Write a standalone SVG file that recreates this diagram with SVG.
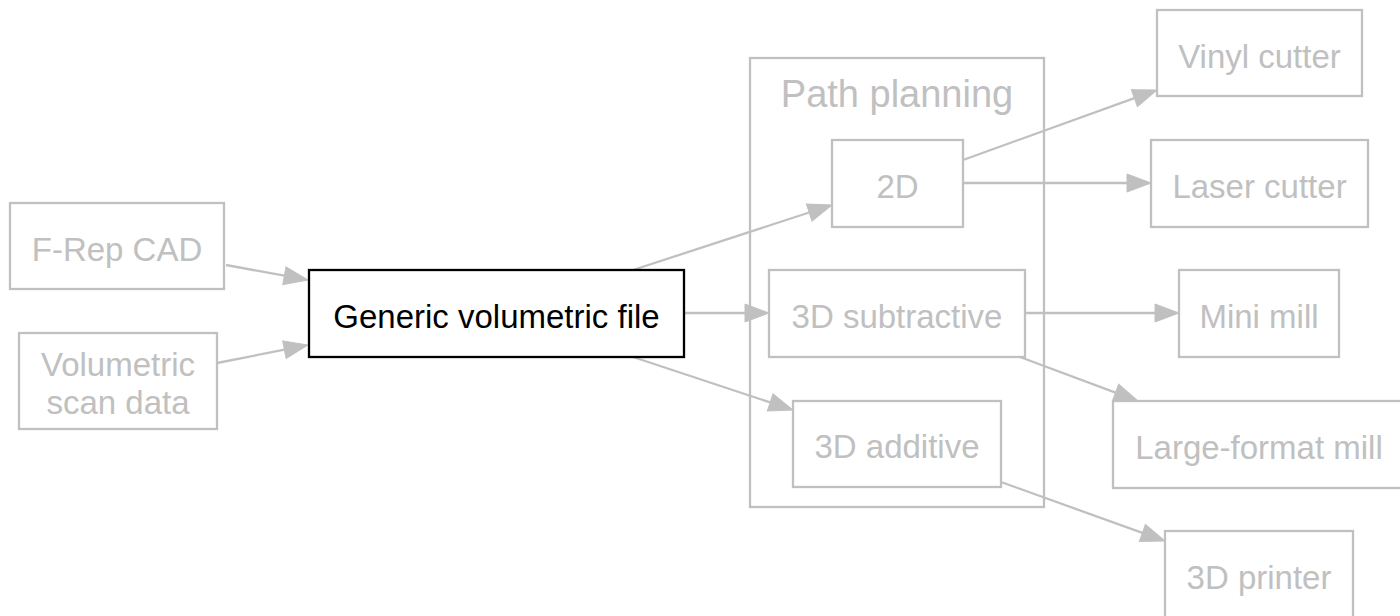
<svg xmlns="http://www.w3.org/2000/svg" width="1400" height="616" viewBox="0 0 1400 616">
<style>
  .n rect { fill: #ffffff; stroke: #c0c0c0; stroke-width: 2.3; }
  .n text { font-family: "Liberation Sans", Arial, sans-serif; font-size: 33px; fill: #c0c0c0; text-anchor: middle; }
  .main rect { stroke: #000000; }
  .main text { fill: #000000; }
  .cluster rect { fill: none; stroke: #c0c0c0; stroke-width: 2.3; }
  .cluster text { font-family: "Liberation Sans", Arial, sans-serif; font-size: 38px; fill: #c0c0c0; text-anchor: middle; }
  .e line { stroke: #c0c0c0; stroke-width: 2.3; marker-end: url(#arr); }
</style>
<defs>
  <marker id="arr" markerUnits="userSpaceOnUse" markerWidth="26" markerHeight="20" refX="0" refY="9" orient="auto" overflow="visible">
    <path d="M0,0 L24,9 L0,18 Z" fill="#c0c0c0" stroke="#c0c0c0" stroke-width="1"/>
  </marker>
</defs>
<rect width="1400" height="616" fill="#ffffff"/>
<g id="cluster-path-planning" class="cluster">
  <rect x="750" y="58" width="294" height="449"/>
  <text x="897" y="107">Path planning</text>
</g>
<g id="edges" class="e">
  <line x1="226" y1="265" x2="284.4" y2="275.7"/>
  <line x1="217" y1="363" x2="284.4" y2="349.7"/>
  <line x1="633" y1="270" x2="809.2" y2="212.5"/>
  <line x1="684" y1="313" x2="745" y2="313"/>
  <line x1="633" y1="357" x2="770.2" y2="402.4"/>
  <line x1="963" y1="160" x2="1134.4" y2="98.1"/>
  <line x1="963" y1="183" x2="1127" y2="183"/>
  <line x1="1025" y1="313" x2="1155" y2="313"/>
  <line x1="1020" y1="357" x2="1115.5" y2="392.6"/>
  <line x1="1001" y1="482" x2="1142.4" y2="532.9"/>
</g>
<g id="frep" class="n">
  <rect x="10" y="203" width="214" height="86"/>
  <text x="117" y="261">F-Rep CAD</text>
</g>
<g id="scan" class="n">
  <rect x="19" y="333" width="198" height="96"/>
  <text x="118" y="376">Volumetric</text>
  <text x="118" y="414">scan data</text>
</g>
<g id="generic" class="n main">
  <rect x="309" y="270" width="375" height="87"/>
  <text x="496.5" y="328">Generic volumetric file</text>
</g>
<g id="p2d" class="n">
  <rect x="832" y="140" width="131" height="87"/>
  <text x="897.5" y="198">2D</text>
</g>
<g id="p3dsub" class="n">
  <rect x="769" y="270" width="256" height="87"/>
  <text x="897" y="328">3D subtractive</text>
</g>
<g id="p3dadd" class="n">
  <rect x="793" y="401" width="208" height="86"/>
  <text x="897" y="458">3D additive</text>
</g>
<g id="vinyl" class="n">
  <rect x="1157" y="10" width="205" height="86"/>
  <text x="1259.5" y="68">Vinyl cutter</text>
</g>
<g id="laser" class="n">
  <rect x="1151" y="140" width="217" height="87"/>
  <text x="1259.5" y="198">Laser cutter</text>
</g>
<g id="minimill" class="n">
  <rect x="1179" y="270" width="160" height="87"/>
  <text x="1259" y="328">Mini mill</text>
</g>
<g id="largemill" class="n">
  <rect x="1113" y="401" width="292" height="87"/>
  <text x="1259" y="459">Large-format mill</text>
</g>
<g id="printer" class="n">
  <rect x="1165" y="531" width="188" height="87"/>
  <text x="1259" y="589">3D printer</text>
</g>
</svg>
